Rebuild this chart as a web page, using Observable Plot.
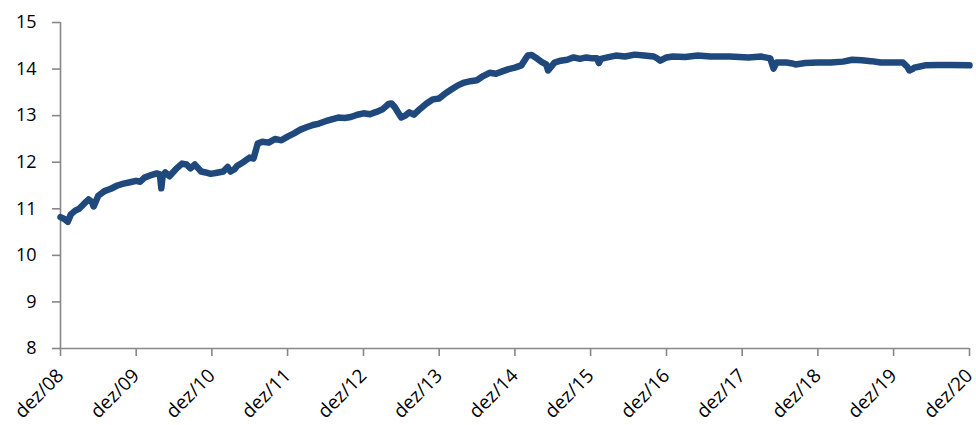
<!DOCTYPE html>
<html>
<head>
<meta charset="utf-8">
<script src="https://cdn.jsdelivr.net/npm/d3@7"></script>
<script src="https://cdn.jsdelivr.net/npm/@observablehq/plot@0.6"></script>
<style>
  html, body { margin: 0; padding: 0; background: #fff; }
  #chart { width: 976px; height: 425px; overflow: hidden; }
</style>
</head>
<body>
<div id="chart"></div>
<script>
const dates = [
"2008-12-01","2008-12-20","2009-01-05","2009-01-20","2009-02-10","2009-03-01","2009-03-25","2009-04-15","2009-05-01","2009-05-10",
"2009-06-01","2009-07-01","2009-08-01","2009-09-01","2009-10-01","2009-11-01","2009-12-01","2009-12-20","2010-01-10","2010-02-15",
"2010-03-10","2010-03-25","2010-04-01","2010-04-08","2010-04-20","2010-05-10","2010-06-10","2010-07-10","2010-08-01","2010-08-20",
"2010-09-10","2010-10-10","2010-11-01","2010-11-25","2011-01-01","2011-01-25","2011-02-15","2011-03-01","2011-03-20","2011-04-01",
"2011-05-01","2011-06-01","2011-06-20","2011-07-10","2011-08-01","2011-09-01","2011-10-01","2011-11-01","2011-12-01","2012-01-01",
"2012-02-01","2012-03-01","2012-04-01","2012-05-01","2012-06-01","2012-07-01","2012-08-01","2012-09-01","2012-10-01","2012-11-01",
"2012-12-01","2013-01-01","2013-02-01","2013-03-01","2013-04-01","2013-04-15","2013-05-01","2013-06-01","2013-06-20","2013-07-10",
"2013-08-01","2013-09-01","2013-10-01","2013-11-01","2013-12-01","2014-01-01","2014-02-01","2014-03-01","2014-04-01","2014-05-01",
"2014-06-01","2014-07-01","2014-08-01","2014-09-01","2014-10-01","2014-11-01","2014-12-01","2015-01-01","2015-02-01","2015-02-20",
"2015-03-10","2015-04-10","2015-05-01","2015-05-10","2015-05-25","2015-06-10","2015-07-10","2015-08-10","2015-09-10","2015-10-10",
"2015-11-10","2015-12-10","2016-01-01","2016-01-10","2016-01-20","2016-02-20","2016-04-01","2016-05-15","2016-07-01","2016-08-15",
"2016-10-01","2016-10-20","2016-11-01","2016-12-01","2017-01-01","2017-03-01","2017-05-01","2017-07-01","2017-10-01","2018-01-01",
"2018-03-01","2018-04-15","2018-05-01","2018-05-15","2018-07-01","2018-08-01","2018-08-15","2018-10-01","2018-12-01","2019-02-01",
"2019-04-01","2019-05-15","2019-07-01","2019-08-15","2019-10-01","2019-12-01","2020-01-15","2020-02-05","2020-02-15","2020-03-01",
"2020-03-10","2020-04-01","2020-05-01","2020-07-01","2020-09-01","2020-12-01"
];
const values = [
10.82,10.78,10.72,10.88,10.96,11.00,11.11,11.20,11.15,11.05,
11.28,11.38,11.43,11.50,11.54,11.57,11.60,11.58,11.67,11.73,
11.76,11.74,11.44,11.72,11.78,11.70,11.85,11.97,11.95,11.87,
11.95,11.80,11.78,11.75,11.78,11.80,11.90,11.80,11.85,11.92,
12.00,12.10,12.08,12.40,12.44,12.42,12.50,12.47,12.55,12.62,
12.70,12.75,12.80,12.83,12.88,12.92,12.96,12.95,12.97,13.02,
13.05,13.03,13.08,13.13,13.25,13.26,13.18,12.96,13.00,13.07,
13.02,13.15,13.26,13.35,13.37,13.48,13.57,13.65,13.71,13.74,
13.76,13.85,13.92,13.90,13.95,14.00,14.03,14.08,14.29,14.30,
14.25,14.15,14.10,13.97,14.05,14.14,14.18,14.20,14.25,14.22,
14.25,14.23,14.23,14.13,14.22,14.25,14.29,14.27,14.31,14.29,
14.27,14.22,14.18,14.25,14.27,14.26,14.29,14.27,14.27,14.25,
14.27,14.23,14.01,14.14,14.14,14.12,14.10,14.13,14.14,14.14,
14.16,14.20,14.19,14.17,14.14,14.14,14.14,14.05,13.97,14.00,
14.03,14.05,14.08,14.09,14.09,14.08
];
const yTicks = [8, 9, 10, 11, 12, 13, 14, 15];
const xTickYears = [2008,2009,2010,2011,2012,2013,2014,2015,2016,2017,2018,2019,2020];
const xTickPrefix = "dez/";

const data = dates.map((d, i) => ({date: new Date(d + "T00:00:00Z"), value: values[i]}));
const xTicks = xTickYears.map(y => new Date(Date.UTC(y, 11, 1)));
const axisColor = "#878787";
const font = "Open Sans, Lato, sans-serif";

const chart = Plot.plot({
  width: 976,
  height: 425,
  marginLeft: 60,
  marginRight: 7,
  marginTop: 22,
  marginBottom: 77,
  style: {fontFamily: font, fontSize: "18px", color: "#000", background: "#fff"},
  x: {type: "utc", domain: [xTicks[0], xTicks[xTicks.length - 1]]},
  y: {domain: [8, 15]},
  marks: [
    Plot.ruleX([xTicks[0]], {stroke: axisColor, strokeWidth: 1.6}),
    Plot.ruleY([8], {stroke: axisColor, strokeWidth: 1.6}),
    Plot.axisY({ticks: yTicks, tickSize: 8, tickPadding: 16, stroke: axisColor, strokeWidth: 1.6, fill: "#000", fontSize: 18, label: null, tickFormat: d => String(d)}),
    Plot.axisX({ticks: xTicks, tickSize: 8, tickPadding: 16, tickRotate: -45, stroke: axisColor, strokeWidth: 1.6, fill: "#000", fontSize: 19, label: null,
      tickFormat: d => xTickPrefix + String(d.getUTCFullYear() % 100).padStart(2, "0")}),
    Plot.line(data, {x: "date", y: "value", stroke: "#1F487C", strokeWidth: 6.5, strokeLinejoin: "round", strokeLinecap: "round"})
  ]
});
document.getElementById("chart").appendChild(chart);
</script>
</body>
</html>
